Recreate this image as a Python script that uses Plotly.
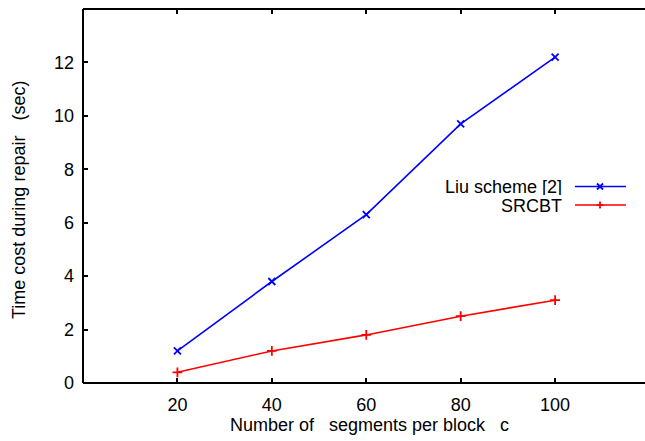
import plotly.graph_objects as go

segments = [20, 40, 60, 80, 100]
liu_scheme = [1.2, 3.8, 6.3, 9.7, 12.2]
srcbt = [0.4, 1.2, 1.8, 2.5, 3.1]
x_ticks = [20, 40, 60, 80, 100]
y_ticks = [0, 2, 4, 6, 8, 10, 12]

W, H = 650, 441
L, R, T, B = 83, 650, 9, 383
XSCALE = 4.721

def px(x):
    return (x - L) / (R - L)

def py(y):
    return (B - y) / (B - T)

NB = "\u00a0"
font = dict(family="Liberation Sans, Arial, sans-serif", size=18, color="black")

fig = go.Figure()
fig.add_trace(go.Scatter(x=segments, y=liu_scheme, mode="lines+markers", name="Liu scheme [2]",
                         line=dict(color="#0000ff", width=1.6),
                         marker=dict(symbol="x-thin", size=7, line=dict(color="#0000ff", width=1.8)),
                         showlegend=False))
fig.add_trace(go.Scatter(x=segments, y=srcbt, mode="lines+markers", name="SRCBT",
                         line=dict(color="#ff0000", width=1.6),
                         marker=dict(symbol="cross-thin", size=7, line=dict(color="#ff0000", width=1.8)),
                         showlegend=False))

shapes = []
for (x0, y0, x1, y1) in [(0, 0, 0, 1), (0, 0, 1, 0), (0, 1, 1, 1), (1, 0, 1, 1)]:
    shapes.append(dict(type="line", xref="paper", yref="paper", x0=x0, y0=y0, x1=x1, y1=y1,
                       line=dict(color="black", width=2)))

leg = [("Liu scheme [2]", "#0000ff", 186.5, "x"), ("SRCBT", "#ff0000", 205, "+")]
annotations = []
for name, col, yy, sym in leg:
    yp = py(yy)
    shapes.append(dict(type="line", xref="paper", yref="paper", x0=px(575), x1=px(626), y0=yp, y1=yp,
                       line=dict(color=col, width=1.6)))
    if sym == "x":
        segs = [(-3, -3, 3, 3), (-3, 3, 3, -3)]
    else:
        segs = [(-3.5, 0, 3.5, 0), (0, -3.5, 0, 3.5)]
    for a, b, c, d in segs:
        shapes.append(dict(type="line", xref="paper", yref="paper", xsizemode="pixel", ysizemode="pixel",
                           xanchor=px(600), yanchor=yp, x0=a, y0=b, x1=c, y1=d,
                           line=dict(color=col, width=1.8)))
    annotations.append(dict(text=name, xref="paper", yref="paper", x=px(564), y=yp, height=17,
                            xanchor="right", yanchor="middle", showarrow=False, font=font))

annotations.append(dict(text="Number of" + NB * 3 + "segments per block" + NB * 3 + "c",
                        xref="paper", yref="paper",
                        x=px(369), y=py(425), xanchor="center", yanchor="middle", showarrow=False, font=font))
annotations.append(dict(text="Time cost during repair" + NB * 3 + "(sec)", xref="paper", yref="paper",
                        x=px(19), y=py(200), xanchor="center", yanchor="middle", textangle=-90,
                        showarrow=False, font=font))

fig.update_layout(
    width=W, height=H,
    margin=dict(l=L, r=W - R, t=T, b=H - B, pad=0),
    paper_bgcolor="white", plot_bgcolor="white",
    font=font,
    shapes=shapes, annotations=annotations,
    xaxis=dict(range=[0, (R - L) / XSCALE], tickvals=x_ticks, ticks="inside", ticklen=5, tickwidth=1.5,
               tickcolor="black", mirror="ticks", showline=False, showgrid=False, zeroline=False,
               ticklabelstandoff=9, tickfont=font),
    yaxis=dict(range=[0, 14], tickvals=y_ticks, ticks="inside", ticklen=5, tickwidth=1.5,
               tickcolor="black", mirror="ticks", showline=False, showgrid=False, zeroline=False,
               ticklabelstandoff=8, tickfont=font),
)

fig.write_html(
    "out.html",
    config={"displayModeBar": False},
    post_script="document.documentElement.style.overflow='hidden';"
                "document.body.style.margin='0';document.body.style.overflow='hidden';",
)
